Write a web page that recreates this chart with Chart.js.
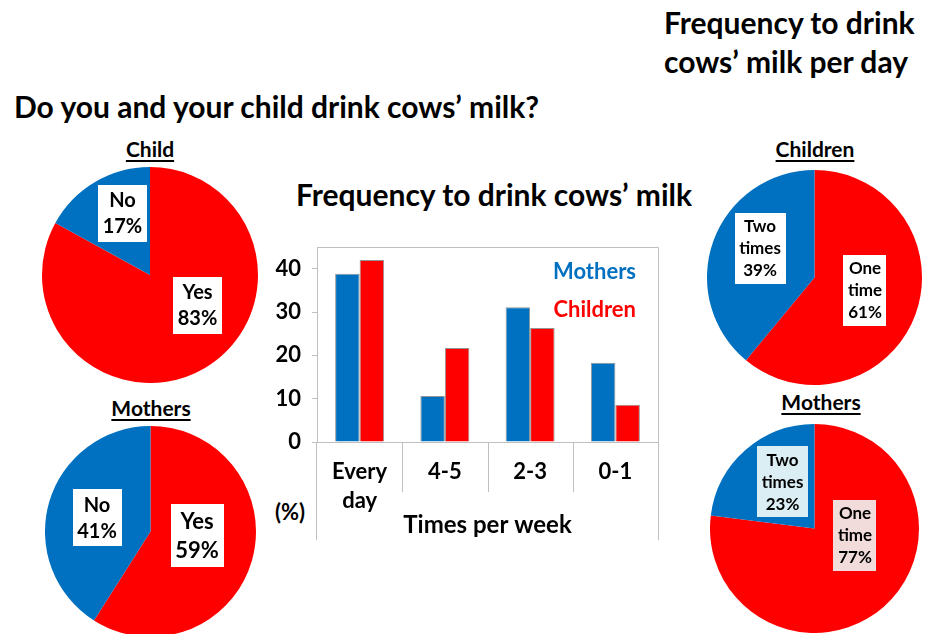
<!DOCTYPE html>
<html>
<head>
<meta charset="utf-8">
<script src="https://cdn.jsdelivr.net/npm/chart.js@4/dist/chart.umd.min.js"></script>
<style>
  html, body { margin: 0; padding: 0; background: #fff; }
  body { width: 927px; height: 634px; position: relative; overflow: hidden;
         font-family: Lato, "Open Sans", sans-serif; font-weight: bold; color: #000; }
  .txt { position: absolute; white-space: nowrap; }
  .big { font-size: 30px; line-height: 39px; }
  .sub { font-size: 21px; line-height: 26px; text-decoration: underline; text-underline-offset: 3px; }
  canvas { position: absolute; }
</style>
</head>
<body>
<div class="txt big" style="left:664px; top:3px;">Frequency to drink<br>cows’ milk per day</div>
<div class="txt big" style="left:14px; top:87px;">Do you and your child drink cows’ milk?</div>
<div class="txt big" style="left:494px; top:175px; transform:translateX(-50%);">Frequency to drink cows’ milk</div>

<div class="txt sub" style="left:150px; top:136px; transform:translateX(-50%);">Child</div>
<div class="txt sub" style="left:151px; top:395px; transform:translateX(-50%);">Mothers</div>
<div class="txt sub" style="left:815px; top:136px; transform:translateX(-50%);">Children</div>
<div class="txt sub" style="left:821px; top:389px; transform:translateX(-50%);">Mothers</div>

<div class="txt" style="left:290px; top:498px; font-size:22px; line-height:28px; transform:translateX(-50%);">(%)</div>

<canvas id="childPie" width="216" height="216" style="left:42px; top:167px;"></canvas>
<canvas id="motherPie" width="211" height="211" style="left:45px; top:426px;"></canvas>
<canvas id="childDayPie" width="215" height="215" style="left:707px; top:170px;"></canvas>
<canvas id="motherDayPie" width="209" height="209" style="left:710px; top:424px;"></canvas>
<canvas id="freqBar" width="420" height="310" style="left:260px; top:230px;"></canvas>

<script>
// Do you drink cows' milk? (%)
const drinkLabels = ['Yes', 'No'];
const childDrink = [83, 17];
const motherDrink = [59, 41];

// Times per day (%)
const perDayLabels = [['One', 'time'], ['Two', 'times']];
const childPerDay = [61, 39];
const motherPerDay = [77, 23];

// Times per week (%)
const weekCategories = [['Every', 'day'], '4-5', '2-3', '0-1'];
const mothersWeek = [38.8, 10.6, 31.1, 18.3];
const childrenWeek = [42.0, 21.7, 26.3, 8.6];
const seriesNames = ['Mothers', 'Children'];

const FONT = 'Lato, "Open Sans", sans-serif';
const RED = '#FF0000';
const BLUE = '#0070C0';

Chart.defaults.font.family = FONT;
Chart.defaults.animation = false;

// white (or tinted) boxes with label + percent inside the pie
const boxLabels = {
    id: 'boxLabels',
    afterDatasetsDraw(chart, args, opts) {
        const ctx = chart.ctx;
        const meta = chart.getDatasetMeta(0);
        const values = chart.data.datasets[0].data;
        ctx.save();
        ctx.textAlign = 'center';
        ctx.textBaseline = 'middle';
        meta.data.forEach((arc, i) => {
            const size = opts.sizes[i];
            const lh = Math.round(size * 1.3);
            ctx.font = `bold ${size}px ${FONT}`;
            const lines = [].concat(chart.data.labels[i], values[i] + '%');
            const x = arc.x + opts.offsets[i][0] * arc.outerRadius;
            const y = arc.y + opts.offsets[i][1] * arc.outerRadius;
            const w = Math.max(...lines.map(l => ctx.measureText(l).width)) + 9;
            const h = lines.length * lh + 5;
            ctx.fillStyle = opts.boxColors[i];
            ctx.fillRect(Math.round(x - w / 2), Math.round(y - h / 2), Math.round(w), h);
            ctx.fillStyle = '#000';
            lines.forEach((l, j) => {
                ctx.fillText(l, x, y - h / 2 + 3 + lh * (j + 0.5));
            });
        });
        ctx.restore();
    }
};

function makePie(id, labels, values, labelOpts) {
    const ctx = document.getElementById(id).getContext('2d');
    return new Chart(ctx, {
        type: 'pie',
        data: {
            labels: labels,
            datasets: [{
                data: values,
                backgroundColor: [RED, BLUE],
                borderWidth: 0
            }]
        },
        options: {
            responsive: false,
            layout: { padding: 0 },
            plugins: {
                legend: { display: false },
                tooltip: { enabled: false },
                boxLabels: labelOpts
            }
        },
        plugins: [boxLabels]
    });
}

makePie('childPie', drinkLabels, childDrink, {
    sizes: [20, 20],
    offsets: [[0.44, 0.278], [-0.255, -0.574]],
    boxColors: ['#fff', '#fff']
});
makePie('motherPie', drinkLabels, motherDrink, {
    sizes: [22, 20],
    offsets: [[0.441, 0.038], [-0.507, -0.128]],
    boxColors: ['#fff', '#fff']
});
makePie('childDayPie', perDayLabels, childPerDay, {
    sizes: [17, 17],
    offsets: [[0.47, 0.121], [-0.507, -0.27]],
    boxColors: ['#fff', '#fff']
});
makePie('motherDayPie', perDayLabels, motherPerDay, {
    sizes: [17, 17],
    offsets: [[0.388, 0.067], [-0.306, -0.445]],
    boxColors: ['#F2DCDB', '#DAEEF3']
});

// open frame round the plot, category separators and in-plot legend
const barFrame = {
    id: 'barFrame',
    afterDraw(chart) {
        const { ctx, chartArea: a, scales: { x } } = chart;
        ctx.save();
        ctx.strokeStyle = '#BFBFBF';
        ctx.lineWidth = 1;
        ctx.beginPath();
        ctx.moveTo(a.left, a.top + 0.5);
        ctx.lineTo(a.right + 0.5, a.top + 0.5);
        ctx.lineTo(a.right + 0.5, a.bottom + 98);
        ctx.moveTo(a.left - 0.5, a.bottom);
        ctx.lineTo(a.left - 0.5, a.bottom + 98);
        for (let i = 1; i < x.ticks.length; i++) {
            const px = Math.round((x.getPixelForTick(i - 1) + x.getPixelForTick(i)) / 2) + 0.5;
            ctx.moveTo(px, a.bottom);
            ctx.lineTo(px, a.bottom + 50);
        }
        ctx.stroke();

        ctx.font = `bold 22px ${FONT}`;
        ctx.textAlign = 'right';
        ctx.textBaseline = 'middle';
        chart.data.datasets.forEach((ds, i) => {
            ctx.fillStyle = ds.backgroundColor;
            ctx.fillText(ds.label, a.right - 22, a.top + 25 + i * 38);
        });
        ctx.restore();
    }
};

const barCtx = document.getElementById('freqBar').getContext('2d');
new Chart(barCtx, {
    type: 'bar',
    data: {
        labels: weekCategories,
        datasets: [{
            label: seriesNames[0],
            data: mothersWeek,
            backgroundColor: BLUE,
            borderColor: 'rgba(60,60,60,0.55)',
            borderWidth: 1,
            borderSkipped: 'bottom'
        }, {
            label: seriesNames[1],
            data: childrenWeek,
            backgroundColor: RED,
            borderColor: 'rgba(60,60,60,0.55)',
            borderWidth: 1,
            borderSkipped: 'bottom'
        }]
    },
    options: {
        responsive: false,
        layout: { padding: { top: 17, right: 22, left: 0, bottom: 0 } },
        datasets: { bar: { categoryPercentage: 0.575, barPercentage: 1 } },
        plugins: {
            legend: { display: false },
            tooltip: { enabled: false }
        },
        scales: {
            x: {
                grid: { display: false },
                border: { color: '#BFBFBF' },
                ticks: {
                    color: '#000',
                    font: { size: 22, weight: 'bold', lineHeight: 1.3 },
                    padding: 8,
                    maxRotation: 0
                },
                title: {
                    display: true,
                    text: 'Times per week',
                    color: '#000',
                    font: { size: 24, weight: 'bold' },
                    padding: { top: 0, bottom: 0 }
                },
                afterFit(scale) {
                    scale.height = 98;
                    scale.paddingLeft = 0;
                    scale.paddingRight = 0;
                }
            },
            y: {
                min: 0,
                max: 45,
                grid: { drawOnChartArea: false, tickLength: 5, color: '#BFBFBF' },
                border: { color: '#BFBFBF' },
                ticks: {
                    stepSize: 5,
                    color: '#000',
                    font: { size: 22, weight: 'bold' },
                    padding: 11,
                    callback: v => (v % 10 === 0 ? v : '')
                },
                afterFit(scale) {
                    scale.width = 57;
                    scale.paddingTop = 0;
                    scale.paddingBottom = 0;
                }
            }
        }
    },
    plugins: [barFrame]
});
</script>
</body>
</html>
